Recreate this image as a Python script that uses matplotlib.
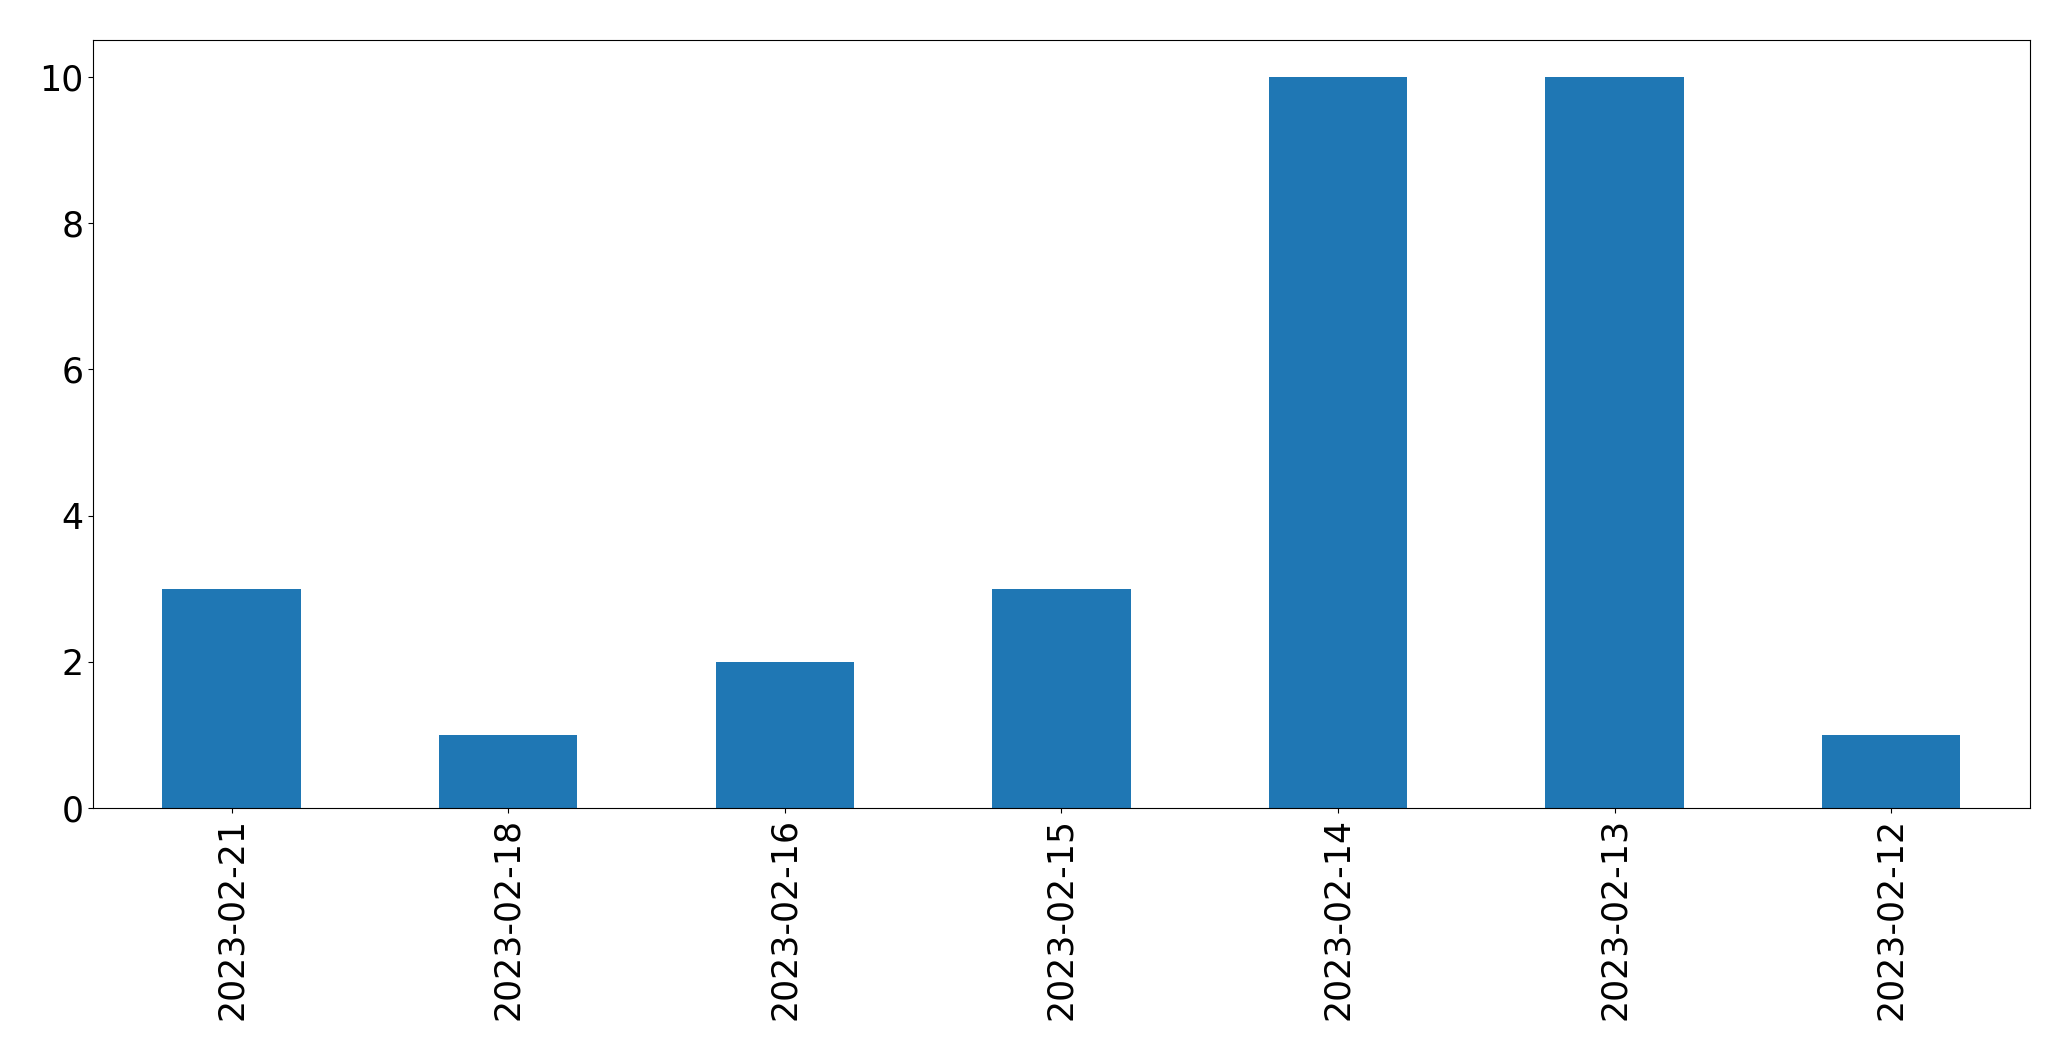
import matplotlib
matplotlib.use("Agg")
import matplotlib.pyplot as plt

dates = ["2023-02-21", "2023-02-18", "2023-02-16", "2023-02-15",
         "2023-02-14", "2023-02-13", "2023-02-12"]
counts = [3, 1, 2, 3, 10, 10, 1]

fig = plt.figure(figsize=(20.71, 10.61), dpi=100)
ax = fig.add_axes([0.0450, 0.2385, 0.9350, 0.7235])
x = list(range(len(dates)))
ax.bar(x, counts, width=0.5, color="#1f77b4")
ax.set_xlim(-0.5, len(dates) - 0.5)
ax.set_ylim(0, 10.5)
ax.set_xticks(x)
ax.set_xticklabels(dates, rotation=90)
ax.tick_params(axis="both", labelsize=25)
fig.savefig("out.png", dpi=100)
